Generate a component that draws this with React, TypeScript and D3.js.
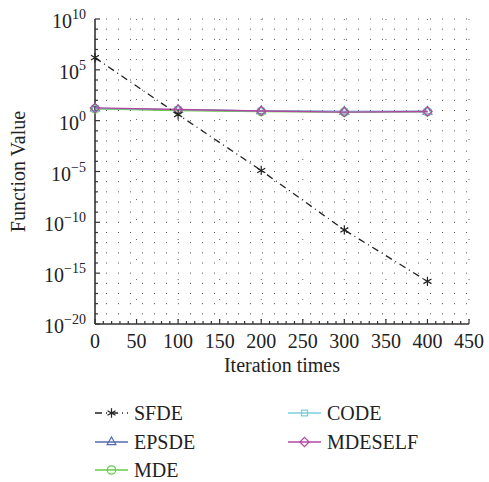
import React, { useRef, useEffect } from "react";
import * as d3 from "d3";

// iteration checkpoints
const iterations = [0, 100, 200, 300, 400];

// log10 of function value for each algorithm
const sfde = [6.2, 0.6, -4.9, -10.75, -15.8];
const epsde = [1.2, 1.05, 0.95, 0.9, 0.9];
const mde = [1.15, 1.0, 0.9, 0.85, 0.88];
const code = [1.2, 1.08, 0.95, 0.88, 0.9];
const mdeself = [1.25, 1.1, 0.95, 0.85, 0.9];

const xTicks = [0, 50, 100, 150, 200, 250, 300, 350, 400, 450];
const yTickExps = [10, 5, 0, -5, -10, -15, -20];

const seriesNames = ["SFDE", "EPSDE", "MDE", "CODE", "MDESELF"];

const FONT = "'Liberation Serif', 'DejaVu Serif', serif";
const FS = 20;

const App: React.FC = () => {
  const ref = useRef<SVGSVGElement>(null);

  useEffect(() => {
    if (!ref.current) return;
    const svg = d3.select(ref.current);
    svg.selectAll("*").remove();

    const left = 95;
    const right = 469;
    const top = 19;
    const bottom = 324;

    const x = d3.scaleLinear().domain([0, 450]).range([left, right]);
    const y = d3.scaleLinear().domain([-20, 10]).range([bottom, top]);

    const series = [
      { name: seriesNames[0], vals: sfde, color: "#222", dash: "7,4,1,4", sym: d3.symbolAsterisk, size: 60 },
      { name: seriesNames[1], vals: epsde, color: "#5468b0", dash: null, sym: d3.symbolTriangle2, size: 55 },
      { name: seriesNames[2], vals: mde, color: "#66cc44", dash: null, sym: d3.symbolCircle, size: 55 },
      { name: seriesNames[3], vals: code, color: "#7ccfd8", dash: null, sym: d3.symbolSquare2, size: 45 },
      { name: seriesNames[4], vals: mdeself, color: "#b0489f", dash: null, sym: d3.symbolDiamond2, size: 55 },
    ];

    const g = svg.append("g");

    // dotted grid
    const grid = g.append("g").attr("stroke", "#555").attr("stroke-width", 1);
    d3.range(-19, 11).forEach((e) => {
      grid
        .append("line")
        .attr("x1", left)
        .attr("x2", right)
        .attr("y1", y(e))
        .attr("y2", y(e))
        .attr("stroke-dasharray", "1,11")
        .attr("stroke-dashoffset", -11);
    });
    xTicks.slice(1).forEach((v) => {
      grid
        .append("line")
        .attr("x1", x(v))
        .attr("x2", x(v))
        .attr("y1", bottom)
        .attr("y2", top)
        .attr("stroke-dasharray", "1,19")
        .attr("stroke-width", 0.9)
        .attr("stroke-dashoffset", -4);
    });

    // axes
    const axis = g.append("g").attr("stroke", "#333").attr("stroke-width", 1.6);
    axis.append("line").attr("x1", left).attr("x2", left).attr("y1", top).attr("y2", bottom);
    axis.append("line").attr("x1", left).attr("x2", right).attr("y1", bottom).attr("y2", bottom);
    d3.range(-20, 11).forEach((e) => {
      const major = e % 5 === 0;
      axis
        .append("line")
        .attr("x1", left)
        .attr("x2", left + (major ? 5 : 3))
        .attr("y1", y(e))
        .attr("y2", y(e))
        .attr("stroke-width", 1.2);
    });
    d3.range(0, 451, 10).forEach((v) => {
      const major = v % 50 === 0;
      axis
        .append("line")
        .attr("x1", x(v))
        .attr("x2", x(v))
        .attr("y1", bottom)
        .attr("y2", bottom - (major ? 5 : 3))
        .attr("stroke-width", 1.2);
    });

    // tick labels
    xTicks.forEach((v) => {
      g.append("text")
        .attr("x", x(v))
        .attr("y", bottom + 24)
        .attr("text-anchor", "middle")
        .attr("font-family", FONT)
        .attr("font-size", FS)
        .attr("fill", "#222")
        .text(v);
    });
    yTickExps.forEach((e) => {
      const t = g
        .append("text")
        .attr("x", left - 9)
        .attr("y", y(e) + 9)
        .attr("text-anchor", "end")
        .attr("font-family", FONT)
        .attr("font-size", FS)
        .attr("fill", "#222");
      t.append("tspan").text("10");
      t.append("tspan")
        .attr("dy", -9)
        .attr("font-size", 14)
        .text(e < 0 ? "\u2212" + Math.abs(e) : String(e));
    });

    // axis titles
    g.append("text")
      .attr("transform", `translate(25,${(top + bottom) / 2}) rotate(-90)`)
      .attr("text-anchor", "middle")
      .attr("font-family", FONT)
      .attr("font-size", FS)
      .attr("fill", "#222")
      .text("Function Value");
    g.append("text")
      .attr("x", (left + right) / 2)
      .attr("y", bottom + 48)
      .attr("text-anchor", "middle")
      .attr("font-family", FONT)
      .attr("font-size", FS)
      .attr("fill", "#222")
      .text("Iteration times");

    // series
    const line = d3
      .line<number>()
      .x((_, i) => x(iterations[i]))
      .y((d) => y(d));

    [...series.slice(1), series[0]].forEach((s) => {
      g.append("path")
        .datum(s.vals)
        .attr("fill", "none")
        .attr("stroke", s.color)
        .attr("stroke-width", 1.3)
        .attr("stroke-dasharray", s.dash)
        .attr("d", line);
      s.vals.forEach((v, i) => {
        g.append("path")
          .attr("d", d3.symbol(s.sym, s.size)())
          .attr("transform", `translate(${x(iterations[i])},${y(v)})`)
          .attr("fill", "none")
          .attr("stroke", s.color)
          .attr("stroke-width", 1.2);
      });
    });

    // legend
    const legendPos = [
      [95, 413],
      [95, 442],
      [95, 470],
      [288, 413],
      [288, 442],
    ];
    series.forEach((s, i) => {
      const [lx, ly] = legendPos[i];
      const lg = g.append("g").attr("transform", `translate(${lx},${ly})`);
      lg.append("line")
        .attr("x1", 0)
        .attr("x2", 33)
        .attr("y1", 0)
        .attr("y2", 0)
        .attr("stroke", s.color)
        .attr("stroke-width", 1.3)
        .attr("stroke-dasharray", s.dash);
      lg.append("path")
        .attr("d", d3.symbol(s.sym, s.size)())
        .attr("transform", "translate(16.5,0)")
        .attr("fill", "none")
        .attr("stroke", s.color)
        .attr("stroke-width", 1.2);
      lg.append("text")
        .attr("x", 39)
        .attr("y", 7)
        .attr("font-family", FONT)
        .attr("font-size", FS)
        .attr("fill", "#222")
        .text(s.name);
    });
  }, []);

  return (
    <svg
      ref={ref}
      width={489}
      height={482}
      style={{ position: "absolute", left: 0, top: 0, background: "#fff" }}
    ></svg>
  );
};

export default App;
